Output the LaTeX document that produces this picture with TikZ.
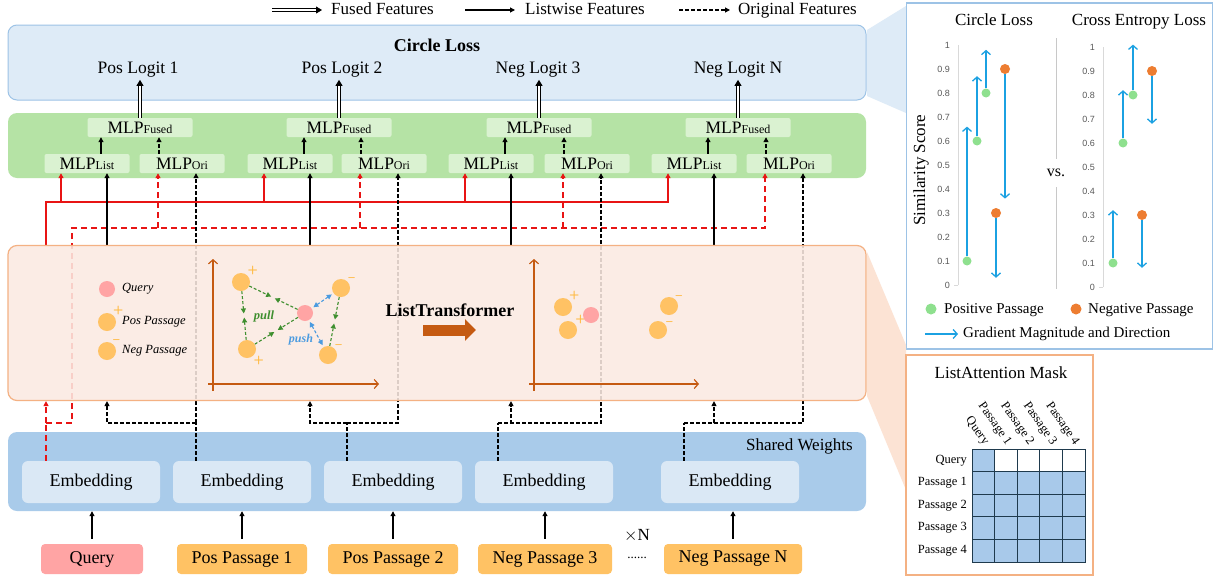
\documentclass[tikz,border=0pt]{standalone}
\usepackage{fontspec}
\setmainfont{Liberation Serif}
\newfontfamily\plotfont{Liberation Sans}
\usetikzlibrary{positioning, calc, arrows.meta, shapes}
\pgfdeclarelayer{front}
\pgfsetlayers{main,front}

\newcommand{\fs}[1]{\fontsize{#1}{#1}\selectfont}
\newcommand{\mlp}[1]{MLP{\fs{12}#1}}

\definecolor{lossblue}{HTML}{DEEBF7}
\definecolor{lossline}{HTML}{9DC3E6}
\definecolor{mlpgreen}{HTML}{B5E3A5}
\definecolor{mlplight}{HTML}{DAF2D1}
\definecolor{ltfill}{HTML}{FBEAE2}
\definecolor{ltline}{HTML}{F4B183}
\definecolor{ltwedge}{HTML}{FCE3D4}
\definecolor{sharedblue}{HTML}{A9CBEA}
\definecolor{embblue}{HTML}{DAE8F5}
\definecolor{qpink}{HTML}{FFA4A4}
\definecolor{psgorange}{HTML}{FFC264}
\definecolor{sgnorange}{HTML}{FFB940}
\definecolor{axisorange}{HTML}{C55A11}
\definecolor{pullgreen}{HTML}{3F8F2F}
\definecolor{pushblue}{HTML}{4A9BE0}
\definecolor{gradblue}{HTML}{1BA1E2}
\definecolor{posgreen}{HTML}{8EE08E}
\definecolor{negorange}{HTML}{ED7D31}
\definecolor{tickgray}{HTML}{595959}
\definecolor{axisgray}{HTML}{D9D9D9}
\definecolor{sepgray}{HTML}{C8C8C8}
\definecolor{maskblue}{HTML}{A8C9EA}
\definecolor{gridnavy}{HTML}{1F3A4D}
\definecolor{qred}{HTML}{E81414}

\tikzset{basic/.style={inner sep=0pt, text badly centered}}
\tikzset{bigbox/.style={basic, rounded corners=9pt, minimum width=858pt}}
\tikzset{legtop/.style={basic, anchor=west, font=\fs{17}, text height=12pt, text depth=4pt}}
\tikzset{mlpbox/.style={basic, rounded corners=2pt, fill=mlplight, minimum width=85pt, minimum height=19pt, font=\fs{17.5}}}
\tikzset{fusedbox/.style={mlpbox, minimum width=105pt}}
\tikzset{embbox/.style={basic, rounded corners=6pt, fill=embblue, minimum width=138pt, minimum height=42pt, font=\fs{18}}}
\tikzset{inbox/.style={basic, rounded corners=4pt, fill=psgorange, minimum height=30pt, font=\fs{18}}}
\tikzset{listw/.style={draw, line width=1.1pt, -{Triangle[length=5pt,width=5pt]}}}
\tikzset{listl/.style={draw, line width=1.1pt}}
\tikzset{orig/.style={listw, dash pattern=on 4pt off 2pt}}
\tikzset{origl/.style={listl, dash pattern=on 4pt off 2pt}}
\tikzset{qlist/.style={listw, draw=qred, line width=1.3pt}}
\tikzset{qorig/.style={qlist, dash pattern=on 6pt off 4pt}}
\tikzset{qorigl/.style={listl, draw=qred, line width=1.3pt, dash pattern=on 6pt off 4pt}}
\tikzset{fusedarr/.style={draw, double=white, double distance=2.2pt, line width=0.8pt, -{Triangle[length=6pt,width=7pt]}}}
\tikzset{psg/.style={circle, fill=psgorange, minimum size=18pt, inner sep=0pt}}
\tikzset{qry/.style={circle, fill=qpink, minimum size=16pt, inner sep=0pt}}
\tikzset{sgn/.style={inner sep=0pt, text=sgnorange, font=\sffamily\bfseries\fs{12}}}
\tikzset{legtext/.style={basic, anchor=west, font=\itshape\fs{12.5}}}
\tikzset{plotaxis/.style={draw=axisorange, line width=1.2pt, -{Straight Barb[length=4pt,width=9pt]}}}
\tikzset{pull/.style={draw=pullgreen, line width=1.1pt, dash pattern=on 3pt off 2pt, -{Triangle[length=5pt,width=5pt]}, shorten >=2pt}}
\tikzset{push/.style={draw=pushblue, line width=1.1pt, dash pattern=on 3pt off 2pt, {Triangle[length=5pt,width=5pt]}-{Triangle[length=5pt,width=5pt]}, shorten >=2pt, shorten <=2pt}}
\tikzset{bigarrow/.style={draw=axisorange, line width=11pt, -{Triangle[length=11pt,width=21pt]}}}
\tikzset{grad/.style={draw=gradblue, line width=1.3pt, -{Straight Barb[length=4pt,width=9pt]}}}
\tikzset{posdot/.style={circle, fill=posgreen, minimum size=9pt, inner sep=0pt}}
\tikzset{negdot/.style={circle, fill=negorange, minimum size=10pt, inner sep=0pt}}
\tikzset{ticklab/.style={basic, anchor=east, font=\plotfont\fs{9}, text=tickgray}}
\tikzset{axline/.style={draw=axisgray, line width=0.8pt}}
\tikzset{sepline/.style={draw=sepgray, line width=1pt}}
\tikzset{masklab/.style={basic, font=\fs{12.5}}}

\begin{document}
\begin{tikzpicture}[x=1pt, y=-1pt]
\useasboundingbox (0,0) rectangle (1220,576);
\fill[white] (0,0) rectangle (1220,576);

% Legend on top
\node[legtop] (lgfused) at (331,10) {Fused Features};
\node[legtop] (lglist) at (525,10) {Listwise Features};
\node[legtop] (lgorig) at (738,10) {Original Features};
\draw[fusedarr] ([xshift=-59pt]lgfused.west) -- ([xshift=-9pt]lgfused.west);
\draw[listw] ([xshift=-60pt]lglist.west) -- ([xshift=-10pt]lglist.west);
\draw[orig] ([xshift=-59pt]lgorig.west) -- ([xshift=-8pt]lgorig.west);

% Circle loss
\node[bigbox, fill=lossblue, draw=lossline, line width=1pt, minimum height=75pt] (loss) at (437,62.5) {};
\node[basic, font=\bfseries\fs{18}] (losstitle) at (437,45) {Circle Loss};
\node[basic, font=\fs{17.5}, inner sep=2pt] (logit1) at (138,70) {Pos Logit 1};
\node[basic, font=\fs{17.5}, inner sep=2pt] (logit2) at (342,70) {Pos Logit 2};
\node[basic, font=\fs{17.5}, inner sep=2pt] (logit3) at (538,70) {Neg Logit 3};
\node[basic, font=\fs{17.5}, inner sep=2pt] (logitN) at (738,70) {Neg Logit N};

% MLP heads
\node[bigbox, fill=mlpgreen, minimum height=65pt] (heads) at (437,145.5) {};
\node[fusedbox] (fused1) at (140,127.5) {\mlp{Fused}};
\node[fusedbox] (fused2) at (339,127.5) {\mlp{Fused}};
\node[fusedbox] (fused3) at (539,127.5) {\mlp{Fused}};
\node[fusedbox] (fused4) at (738,127.5) {\mlp{Fused}};
\node[mlpbox] (list1) at (87,163.5) {\mlp{List}};
\node[mlpbox] (list2) at (290,163.5) {\mlp{List}};
\node[mlpbox] (list3) at (491,163.5) {\mlp{List}};
\node[mlpbox] (list4) at (694,163.5) {\mlp{List}};
\node[mlpbox] (ori1) at (182,163.5) {\mlp{Ori}};
\node[mlpbox] (ori2) at (384,163.5) {\mlp{Ori}};
\node[mlpbox] (ori3) at (587,163.5) {\mlp{Ori}};
\node[mlpbox] (ori4) at (789,163.5) {\mlp{Ori}};

% Draw lines inside the heads
\draw[listw] ([xshift=14pt]list1.north) -- ([xshift=14pt]list1.north |- fused1.south);
\draw[listw] ([xshift=14pt]list2.north) -- ([xshift=14pt]list2.north |- fused2.south);
\draw[listw] ([xshift=14pt]list3.north) -- ([xshift=14pt]list3.north |- fused3.south);
\draw[listw] ([xshift=14pt]list4.north) -- ([xshift=14pt]list4.north |- fused4.south);
\draw[orig] ([xshift=-23pt]ori1.north) -- ([xshift=-23pt]ori1.north |- fused1.south);
\draw[orig] ([xshift=-23pt]ori2.north) -- ([xshift=-23pt]ori2.north |- fused2.south);
\draw[orig] ([xshift=-23pt]ori3.north) -- ([xshift=-23pt]ori3.north |- fused3.south);
\draw[orig] ([xshift=-23pt]ori4.north) -- ([xshift=-23pt]ori4.north |- fused4.south);
\draw[fusedarr] (fused1.north) -- (fused1.north |- logit1.south);
\draw[fusedarr] (fused2.north) -- (fused2.north |- logit2.south);
\draw[fusedarr] (fused3.north) -- (fused3.north |- logit3.south);
\draw[fusedarr] (fused4.north) -- (fused4.north |- logitN.south);

% Shared embedding
\node[bigbox, fill=sharedblue, minimum height=79pt] (shared) at (437,471.5) {};
\node[basic, anchor=east, font=\fs{17}] (swlabel) at (853,446) {Shared Weights};
\node[embbox] (emb1) at (91,482) {Embedding};
\node[embbox] (emb2) at (242,482) {Embedding};
\node[embbox] (emb3) at (393,482) {Embedding};
\node[embbox] (emb4) at (544,482) {Embedding};
\node[embbox] (emb5) at (730,482) {Embedding};

% Inputs
\node[inbox, fill=qpink, minimum width=102pt] (query) at (92,559) {Query};
\node[inbox, minimum width=130pt] (pos1) at (242,559) {Pos Passage 1};
\node[inbox, minimum width=130pt] (pos2) at (393,559) {Pos Passage 2};
\node[inbox, minimum width=134pt] (neg3) at (545,559) {Neg Passage 3};
\node[inbox, minimum width=138pt] (negN) at (733,559) {Neg Passage N};
\node[basic, font=\fs{17}] (times) at (637,536) {$\times$N};
\node[basic, font=\fs{13}] (dots) at (637,558) {......};
\draw[listw] ([yshift=5pt]query.north) -- (query.north |- shared.south);
\draw[listw] ([yshift=5pt]pos1.north) -- (pos1.north |- shared.south);
\draw[listw] ([yshift=5pt]pos2.north) -- (pos2.north |- shared.south);
\draw[listw] ([yshift=5pt]neg3.north) -- (neg3.north |- shared.south);
\draw[listw] ([yshift=5pt]negN.north) -- (negN.north |- shared.south);

% ListTransformer
\begin{pgfonlayer}{front}
\node[bigbox, fill=ltfill, fill opacity=0.88, draw=ltline, line width=1.2pt, minimum height=155pt] (ltbox) at (437,323) {};

% legend
\node[qry] (lgq) at (107,289) {};
\node[legtext] (lgqt) at (122,289) {Query};
\node[psg, label={[sgn]50:+}] (lgp) at (107,322) {};
\node[legtext] (lgpt) at (122,322) {Pos Passage};
\node[psg, label={[sgn]50:–}] (lgn) at (107,351) {};
\node[legtext] (lgnt) at (122,351) {Neg Passage};

% before
\draw[plotaxis] (213,391) -- (213,259);
\draw[plotaxis] (208,384) -- (379,384);
\node[psg, label={[sgn]45:+}] (pa) at (241,282) {};
\node[psg, label={[sgn]-45:+}] (pb) at (247,349) {};
\node[qry] (pq) at (305,313) {};
\node[psg, label={[sgn]40:–}] (nc) at (341,288) {};
\node[psg, label={[sgn]40:–}] (nd) at (328,355) {};
\draw[pull] (pa) -- ($(pa)!0.5!(pq)$);
\draw[pull] (pq) -- ($(pa)!0.5!(pq)$);
\draw[pull] (pa) -- ($(pa)!0.5!(pb)$);
\draw[pull] (pb) -- ($(pa)!0.5!(pb)$);
\draw[pull] (pb) -- ($(pb)!0.5!(pq)$);
\draw[pull] (pq) -- ($(pb)!0.5!(pq)$);
\draw[pull] (nc) -- ($(nc)!0.5!(nd)$);
\draw[pull] (nd) -- ($(nc)!0.5!(nd)$);
\draw[push] (pq) -- (nc);
\draw[push] (pq) -- (nd);
\node[basic, font=\bfseries\itshape\fs{12.5}, text=pullgreen] (pulltxt) at (264,316) {pull};
\node[basic, font=\bfseries\itshape\fs{12}, text=pushblue] (pushtxt) at (301,340) {push};

% transformer
\node[basic, font=\bfseries\fs{18}] (ltname) at (450,310) {ListTransformer};
\coordinate (bigs) at (423,330);
\coordinate (bige) at (476,330);
\draw[bigarrow] (bigs) -- (bige);

% after
\draw[plotaxis] (534,391) -- (534,259);
\draw[plotaxis] (529,384) -- (699,384);
\node[psg, label={[sgn]50:+}] (pa2) at (563,307) {};
\node[psg, label={[sgn]40:+}] (pb2) at (568,330) {};
\node[qry] (pq2) at (591,315) {};
\node[psg, label={[sgn]45:–}] (nc2) at (669,306) {};
\node[psg, label={[sgn]30:–}] (nd2) at (658,330) {};
\end{pgfonlayer}

% Columns towards the heads
\coordinate (rc1) at ([xshift=-26pt]list1.south);
\coordinate (rc2) at ([xshift=-26pt]list2.south);
\coordinate (rc3) at ([xshift=-26pt]list3.south);
\coordinate (rc4) at ([xshift=-26pt]list4.south);
\coordinate (lc1) at ([xshift=20pt]list1.south);
\coordinate (lc2) at ([xshift=20pt]list2.south);
\coordinate (lc3) at ([xshift=20pt]list3.south);
\coordinate (lc4) at ([xshift=20pt]list4.south);
\coordinate (roc1) at ([xshift=-24pt]ori1.south);
\coordinate (roc2) at ([xshift=-24pt]ori2.south);
\coordinate (roc3) at ([xshift=-24pt]ori3.south);
\coordinate (roc4) at ([xshift=-24pt]ori4.south);
\coordinate (oc1) at ([xshift=14pt]ori1.south);
\coordinate (oc2) at ([xshift=14pt]ori2.south);
\coordinate (oc3) at ([xshift=14pt]ori3.south);
\coordinate (oc4) at ([xshift=14pt]ori4.south);

% Query lines
\coordinate (qsplit) at (46,423);
\coordinate (qbus) at (72,228);
\coordinate (qlbus) at (46,202);
\draw[qorigl] (qsplit |- emb1.north) -- (qsplit);
\draw[qorig] (qsplit) -- (qsplit |- ltbox.south);
\draw[qorig] (qsplit) -| (qbus) -| (roc4);
\draw[qorig] (roc1 |- qbus) -- (roc1);
\draw[qorig] (roc2 |- qbus) -- (roc2);
\draw[qorig] (roc3 |- qbus) -- (roc3);
\draw[qlist] (qsplit |- ltbox.north) -- (qlbus) -| (rc4);
\draw[qlist] (rc1 |- qlbus) -- (rc1);
\draw[qlist] (rc2 |- qlbus) -- (rc2);
\draw[qlist] (rc3 |- qlbus) -- (rc3);

% Passage lines
\coordinate (sp1) at (196,423);
\coordinate (sp2) at (347,423);
\coordinate (sp3) at (498,423);
\coordinate (sp4) at (684,423);
\draw[origl] (sp1 |- emb2.north) -- (sp1);
\draw[origl] (sp2 |- emb3.north) -- (sp2);
\draw[origl] (sp3 |- emb4.north) -- (sp3);
\draw[origl] (sp4 |- emb5.north) -- (sp4);
\draw[orig] (sp1) -| (lc1 |- ltbox.south);
\draw[orig] (sp2) -| (lc2 |- ltbox.south);
\draw[orig] (sp3) -| (lc3 |- ltbox.south);
\draw[orig] (sp4) -| (lc4 |- ltbox.south);
\draw[orig] (sp1) -| (oc1);
\draw[orig] (sp2) -| (oc2);
\draw[orig] (sp3) -| (oc3);
\draw[orig] (sp4) -| (oc4);
\draw[listw] (lc1 |- ltbox.north) -- (lc1);
\draw[listw] (lc2 |- ltbox.north) -- (lc2);
\draw[listw] (lc3 |- ltbox.north) -- (lc3);
\draw[listw] (lc4 |- ltbox.north) -- (lc4);

% Comparison panel
\fill[lossblue] (867,30) -- (906,6) -- (906,113) -- (867,96) -- cycle;
\node[basic, draw=lossline, line width=1.2pt, fill=white, minimum width=306pt, minimum height=346pt] (cmpbox) at (1059.5,176) {};
\node[basic, font=\fs{17}] (cltitle) at (994,20) {Circle Loss};
\node[basic, font=\fs{17}] (cetitle) at (1139,22) {Cross Entropy Loss};
\node[basic, rotate=90, font=\fs{17}] (simlab) at (921,170) {Similarity Score};
\node[basic, font=\fs{16}] (vs) at (1056,173) {vs.};
\coordinate (septop) at (1056,38);
\coordinate (sepbot) at (1056,289);
\draw[sepline] (septop) -- ([yshift=10pt]vs.north);
\draw[sepline] ([yshift=-10pt]vs.south) -- (sepbot);

% circle loss plot
\begin{scope}[shift={(958,285)}, y=240pt]
\draw[axline] (0,0) -- (0,1);
\draw[axline] (-4,0) -- (0,0);
\node[ticklab] at (-8,1) {1};
\node[ticklab] at (-8,0.9) {0.9};
\node[ticklab] at (-8,0.8) {0.8};
\node[ticklab] at (-8,0.7) {0.7};
\node[ticklab] at (-8,0.6) {0.6};
\node[ticklab] at (-8,0.5) {0.5};
\node[ticklab] at (-8,0.4) {0.4};
\node[ticklab] at (-8,0.3) {0.3};
\node[ticklab] at (-8,0.2) {0.2};
\node[ticklab] at (-8,0.1) {0.1};
\node[ticklab] at (-8,0) {0};
\node[posdot] (cg1) at (9,0.1) {};
\node[posdot] (cg2) at (19,0.6) {};
\node[posdot] (cg3) at (28,0.8) {};
\node[negdot] (cn1) at (47,0.9) {};
\node[negdot] (cn2) at (38,0.3) {};
\coordinate (cg1e) at (9,0.66);
\coordinate (cg2e) at (19,0.87);
\coordinate (cg3e) at (28,0.98);
\coordinate (cn1e) at (47,0.36);
\coordinate (cn2e) at (38,0.03);
\draw[grad] (cg1) -- (cg1e);
\draw[grad] (cg2) -- (cg2e);
\draw[grad] (cg3) -- (cg3e);
\draw[grad] (cn1) -- (cn1e);
\draw[grad] (cn2) -- (cn2e);
\end{scope}

% cross entropy plot
\begin{scope}[shift={(1103,287)}, y=240pt]
\draw[axline] (0,0) -- (0,1);
\draw[axline] (-4,0) -- (0,0);
\node[ticklab] at (-8,1) {1};
\node[ticklab] at (-8,0.9) {0.9};
\node[ticklab] at (-8,0.8) {0.8};
\node[ticklab] at (-8,0.7) {0.7};
\node[ticklab] at (-8,0.6) {0.6};
\node[ticklab] at (-8,0.5) {0.5};
\node[ticklab] at (-8,0.4) {0.4};
\node[ticklab] at (-8,0.3) {0.3};
\node[ticklab] at (-8,0.2) {0.2};
\node[ticklab] at (-8,0.1) {0.1};
\node[ticklab] at (-8,0) {0};
\node[posdot] (eg1) at (10,0.1) {};
\node[posdot] (eg2) at (20,0.6) {};
\node[posdot] (eg3) at (30,0.8) {};
\node[negdot] (en1) at (49,0.9) {};
\node[negdot] (en2) at (39,0.3) {};
\coordinate (eg1e) at (10,0.32);
\coordinate (eg2e) at (20,0.82);
\coordinate (eg3e) at (30,1.01);
\coordinate (en1e) at (49,0.68);
\coordinate (en2e) at (39,0.08);
\draw[grad] (eg1) -- (eg1e);
\draw[grad] (eg2) -- (eg2e);
\draw[grad] (eg3) -- (eg3e);
\draw[grad] (en1) -- (en1e);
\draw[grad] (en2) -- (en2e);
\end{scope}

% panel legend
\node[posdot, minimum size=11pt] (lgpos) at (931,309) {};
\node[basic, anchor=west, font=\fs{15}] (lgpost) at (944,310) {Positive Passage};
\node[negdot, minimum size=11pt] (lgneg) at (1076,309) {};
\node[basic, anchor=west, font=\fs{15}] (lgnegt) at (1088,310) {Negative Passage};
\node[basic, anchor=west, font=\fs{15}] (lggrad) at (963,334) {Gradient Magnitude and Direction};
\coordinate (lggs) at (925,334);
\draw[grad] (lggs) -- ([xshift=-5pt]lggrad.west);

% Mask panel
\fill[ltwedge] (867,252) -- (906,345) -- (906,490) -- (867,396) -- cycle;
\node[basic, draw=ltline, line width=1.2pt, fill=white, minimum width=187pt, minimum height=220pt] (maskbox) at (999.5,465) {};
\node[basic, font=\fs{17}] (masktitle) at (1001,373) {ListAttention Mask};
\begin{scope}[shift={(972,449)}]
\fill[maskblue] (0,0) rectangle (22.6,22.6);
\fill[maskblue] (0,22.6) rectangle (113,113);
\draw[gridnavy, line width=0.9pt, xstep=22.6pt, ystep=22.6pt] (0,113) grid (113,0);
\draw[gridnavy, line width=0.9pt] (0,0) rectangle (113,113);
\node[masklab, anchor=east] at (-5,11.3) {Query};
\node[masklab, anchor=east] at (-5,33.9) {Passage 1};
\node[masklab, anchor=east] at (-5,56.5) {Passage 2};
\node[masklab, anchor=east] at (-5,79.1) {Passage 3};
\node[masklab, anchor=east] at (-5,101.7) {Passage 4};
\node[masklab, anchor=east, rotate=-55] at (14,-5) {Query};
\node[masklab, anchor=east, rotate=-55] at (36.6,-5) {Passage 1};
\node[masklab, anchor=east, rotate=-55] at (59.2,-5) {Passage 2};
\node[masklab, anchor=east, rotate=-55] at (81.8,-5) {Passage 3};
\node[masklab, anchor=east, rotate=-55] at (104.4,-5) {Passage 4};
\end{scope}

\end{tikzpicture}
\end{document}
